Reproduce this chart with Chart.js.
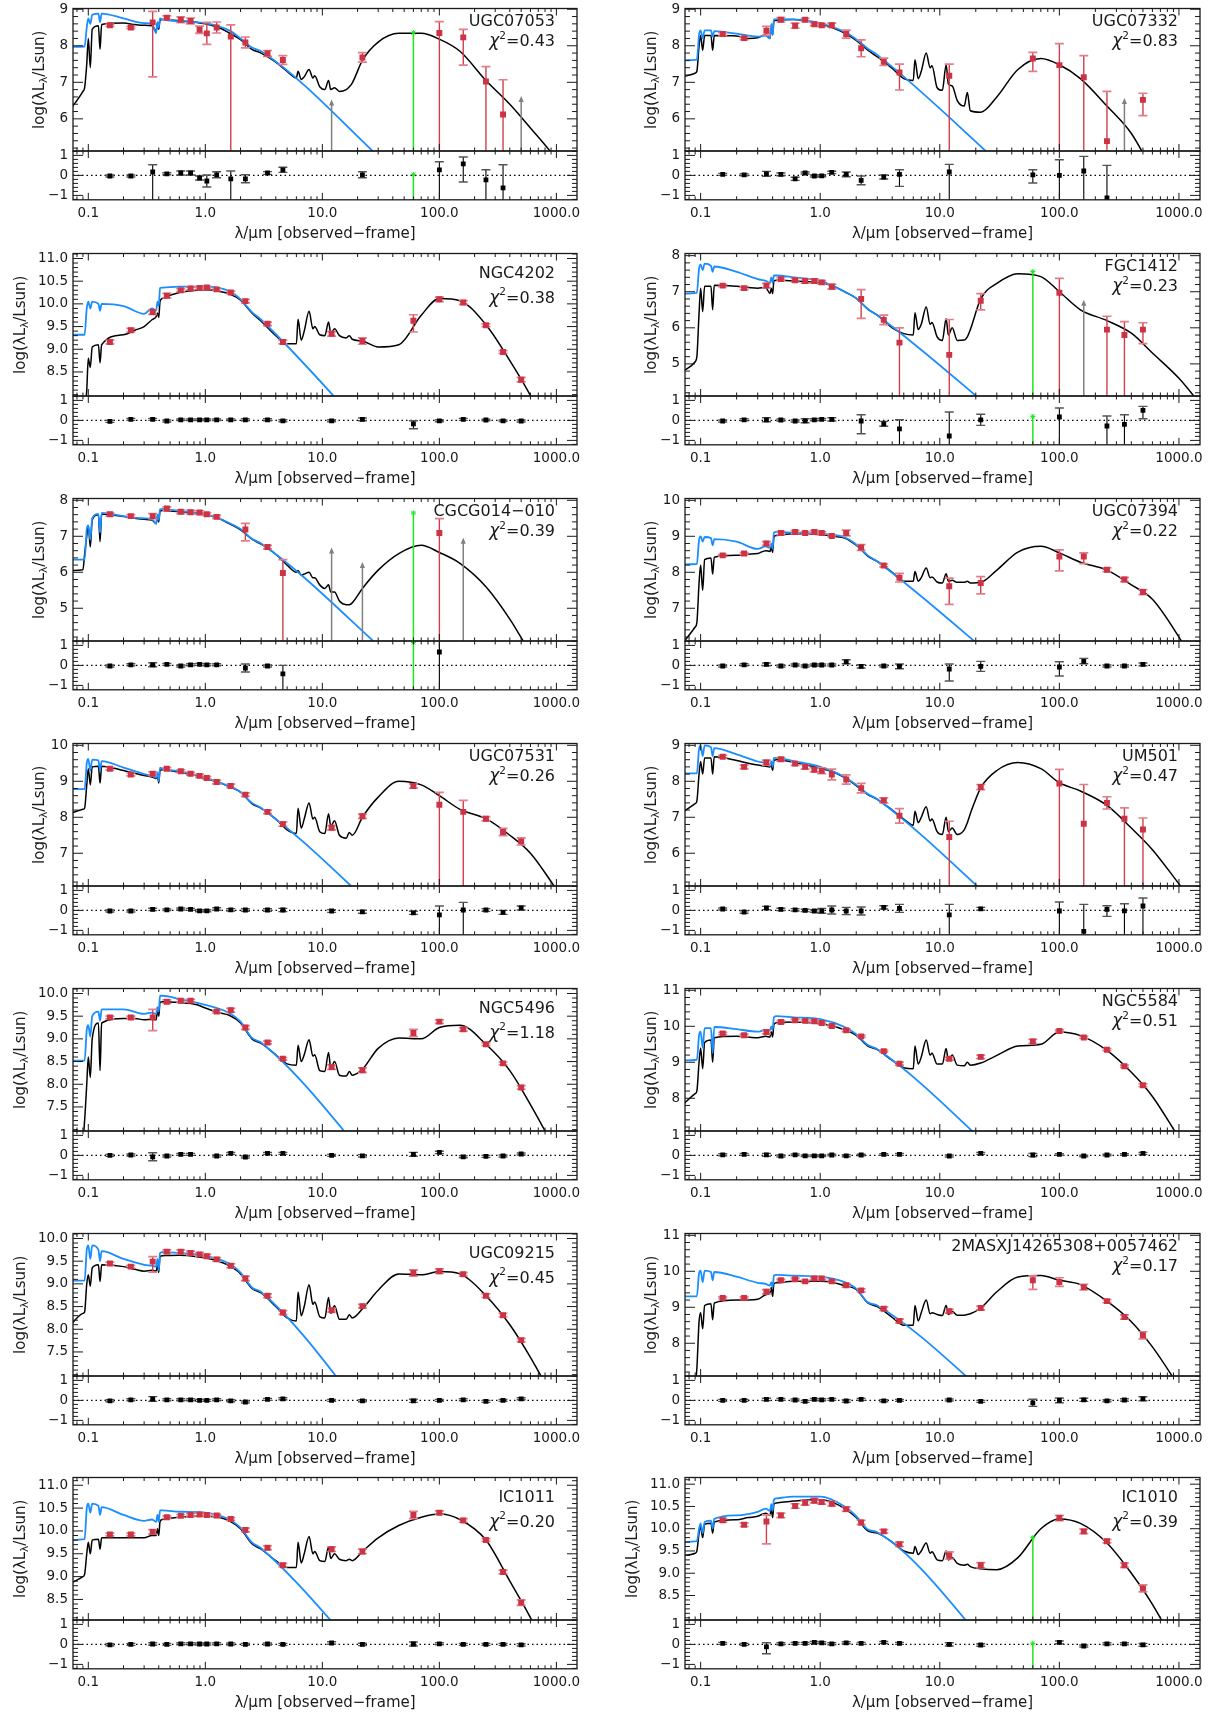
<!DOCTYPE html>
<html><head><meta charset="utf-8">
<script src="https://cdn.jsdelivr.net/npm/chart.js@4.4.0/dist/chart.umd.min.js"></script>
<style>
html,body{margin:0;padding:0;background:#fff;}
#page{position:relative;width:1210px;height:1714px;overflow:hidden;background:#fff;}
#page canvas{position:absolute;}
</style></head><body><div id="page"></div>
<script>
// ---------------- data ----------------
const BANDS = [0.153,0.231,0.355,0.469,0.617,0.748,0.893,1.03,1.25,1.65,2.2,3.4,4.6,12,22,60,100,160,250,350,500];
const MODEL_LAM = [0.07,0.09,0.093,0.097,0.1,0.104,0.108,0.122,0.126,0.13,
  0.2,0.25,0.3,0.35,0.38,0.39,0.4,0.41,0.43,0.6,
  0.85,1.0,1.3,1.6,2.0,2.5,3.0,4.0,5.0,6.0,
  6.2,6.6,7.0,7.7,8.3,8.6,9.5,10.5,11.3,11.8,
  12.7,14,16,17,18,22,30,45,70,100,
  150,250,400,600,1000,1500];
const STAR_LAM = [0.07,0.093,0.097,0.1,0.104,0.108,0.122,0.126,0.13,0.2,0.3,0.35,0.38,0.39,0.4,0.41,0.43,0.6,1.0,1.6,2.0,2.5,3.0,40];
const XTICKS = [0.1, 1, 10, 100, 1000];
const XTICK_LABELS = ['0.1','1.0','10.0','100.0','1000.0'];
const RES_TICKS = [-1, 0, 1];
const RES_TICK_LABELS = ['\u22121','0','1'];
const RES_RANGE = [-1.22, 1.22];
const X_RANGE = [0.074, 1500];

const NAMES = ['UGC07053','UGC07332','NGC4202','FGC1412','CGCG014\u2212010','UGC07394','UGC07531','UM501',
  'NGC5496','NGC5584','UGC09215','2MASXJ14265308+0057462','IC1011','IC1010'];
const CHI2 = ['0.43','0.83','0.38','0.23','0.39','0.22','0.26','0.47','1.18','0.51','0.45','0.17','0.20','0.39'];
const YMIN = [5.12,5.12,7.97,4.11,4.09,6.09,6.09,5.09,6.97,7.09,6.97,7.09,8.05,7.95];
const YMAX = [9.02,9.02,11.11,8.06,8.05,10.05,10.05,9.05,10.11,11.05,10.11,11.05,11.17,11.15];
const YT_6_9 = [6,7,8,9];
const YT_5_8 = [5,6,7,8];
const YT_7_10 = [7,8,9,10];
const YT_8_11 = [8,9,10,11];
const YT_85_110 = [8.5,9.0,9.5,10.0,10.5,11.0];
const YT_75_100 = [7.5,8.0,8.5,9.0,9.5,10.0];

// Panel 1 UGC07053
const P01_obs = [8.56,8.50,8.64,8.77,8.71,8.68,8.44,8.34,8.50,8.25,8.09,7.79,7.61,null,7.68,null,8.35,8.23,7.02,6.12,null];
const P01_err = [0.03,0.03,[0.3,1.49],0.05,0.08,0.08,0.1,0.3,0.15,[0.32,9],0.15,0.08,0.12,null,0.13,null,[0.31,9],[0.22,0.76],[0.41,9],[0.95,9],null];
const P01_res = [-0.03,-0.03,0.17,0.08,0.12,0.12,-0.13,-0.28,0.03,-0.17,-0.17,0.12,0.28,null,0.03,null,0.28,0.58,-0.22,-0.62,null];
const P01_rerr = [0.05,0.05,[0.36,9],0.05,0.1,0.1,0.1,0.3,0.15,[0.39,9],0.2,0.07,0.13,null,0.15,null,[0.4,9],[0.34,0.91],[0.5,9],[1.15,9],null];
const P01_model = [6.25,6.75,6.85,7.5,8.2,7.4,8.45,8.55,7.9,8.58, 8.62,8.58,8.56,8.55,8.4,8.62,8.45,8.7,8.72,8.68, 8.64,8.6,8.5,8.35,8.17,7.9,7.8,7.55,7.3,7.12, 7.3,7.08,7.15,7.35,7.12,7.18,6.88,6.8,7.05,6.8, 6.85,6.75,6.8,6.88,6.98,7.6,8.1,8.34,8.34,8.18, 7.85,7.05,6.4,5.75,4.9,4.1];
const P01_star = [7.97,7.98,8.5,8.75,8.6,8.85,8.88,8.65,8.88,8.75,8.62,8.6,8.35,8.65,8.5,8.75,8.72,8.67,8.62,8.42,8.2,7.95,7.85,4.6];
const P01_ulim = [[12,6.5],[500,6.6]];
const P01_green = [60,8.36,0.05];

// Panel 2 UGC07332
const P02_obs = [8.32,8.21,8.41,8.71,8.55,8.71,8.59,8.56,8.56,8.32,7.93,7.56,7.27,7.18,null,7.65,7.47,7.14,5.39,null,6.52];
const P02_err = [0.04,0.04,0.12,0.06,0.07,0.04,0.04,0.04,0.06,0.11,0.23,0.1,[0.23,0.48],[0.32,9],null,[0.17,0.35],[0.59,9],[0.59,9],[1.36,9],null,[0.18,0.43]];
const P02_res = [0.05,0.03,0.08,0.05,-0.17,0.12,-0.03,-0.02,0.15,0.05,-0.25,-0.08,0.05,0.17,null,0.03,0.0,0.22,-1.12,null,null];
const P02_rerr = [0.05,0.05,0.12,0.07,0.08,0.05,0.05,0.05,0.06,0.12,0.22,0.1,[0.23,0.6],[0.38,9],null,[0.25,0.41],[0.78,9],[0.73,9],[1.62,9],null,null];
const P02_model = [7.14,7.25,7.3,8.0,8.28,7.88,8.28,8.28,7.88,8.28, 8.27,8.2,8.22,8.3,8.2,8.55,8.3,8.68,8.7,8.72, 8.65,8.6,8.48,8.35,8.15,7.88,7.7,7.38,7.1,7.05, 7.62,7.1,7.3,7.8,7.4,7.45,6.85,6.78,7.48,6.95, 6.9,6.5,6.35,6.72,6.22,6.18,6.6,7.35,7.65,7.48, 7.1,6.35,5.6,4.6,3.5,2.6];
const P02_star = [7.6,7.62,8.3,8.42,8.2,8.42,8.42,8.25,8.4,8.33,8.25,8.28,8.2,8.6,8.3,8.72,8.73,8.72,8.62,8.38,8.18,7.92,7.75,4.47];
const P02_ulim = [[350,6.54]];
const P02_green = null;

// Panel 3 NGC4202
const P03_obs = [9.16,9.42,9.82,10.18,10.30,10.34,10.35,10.36,10.32,10.25,10.06,9.56,9.16,9.34,9.18,9.63,10.10,10.03,9.53,8.94,8.33];
const P03_err = [0.04,0.04,0.05,0.05,0.03,0.03,0.03,0.03,0.03,0.03,0.04,0.04,0.04,0.05,0.07,[0.13,0.25],0.05,0.04,0.03,0.03,0.05];
const P03_res = [-0.05,0.05,0.05,-0.03,0.03,0.03,0.03,0.03,0.03,0.03,0.03,0.03,-0.02,-0.02,0.05,-0.17,-0.02,0.05,0.02,-0.02,-0.03];
const P03_rerr = [0.05,0.05,0.05,0.05,0.04,0.04,0.04,0.04,0.04,0.04,0.05,0.05,0.05,0.05,0.07,[0.15,0.25],0.05,0.05,0.04,0.04,0.05];
const P03_model = [7.0,7.3,7.6,8.1,8.8,8.6,9.05,9.1,8.7,9.1, 9.32,9.42,9.5,9.65,9.72,9.8,9.7,10.05,10.12,10.25, 10.3,10.31,10.28,10.22,10.08,9.8,9.62,9.3,9.12,9.12, 9.66,9.2,9.4,9.84,9.45,9.5,9.32,9.3,9.6,9.35, 9.45,9.3,9.25,9.3,9.22,9.18,9.05,9.1,9.75,10.12, 10.07,9.54,8.75,7.98,6.8,5.8];
const P03_star = [9.32,9.32,9.9,10.05,9.9,10.05,10.0,9.85,10.0,9.95,9.78,9.9,9.85,10.05,9.95,10.35,10.36,10.38,10.38,10.28,10.1,9.82,9.65,6.53];
const P03_ulim = [];
const P03_green = null;

// Panel 4 FGC1412
const P04_obs = [7.17,7.10,7.17,7.35,7.32,7.30,7.30,7.26,7.14,null,6.80,6.22,5.59,5.25,6.75,null,6.97,null,5.95,5.80,5.95];
const P04_err = [0.03,0.04,0.06,0.04,0.05,0.06,0.06,0.05,0.07,null,[0.26,0.54],0.13,[0.41,9],[0.98,9],[0.2,0.25],null,[0.4,9],null,[0.37,9],[0.37,9],[0.19,0.39]];
const P04_res = [-0.03,0.03,0.03,0.02,-0.03,-0.02,0.03,0.05,0.05,null,-0.03,-0.17,-0.42,-0.78,0.03,null,0.17,null,-0.28,-0.2,0.5];
const P04_rerr = [0.05,0.05,0.1,0.05,0.05,0.1,0.05,0.05,0.08,null,[0.31,0.64],0.12,[0.45,9],[1.2,9],0.28,null,[0.45,9],null,[0.5,9],[0.48,9],[0.2,0.42]];
const P04_model = [4.78,5.06,5.2,6.4,7.1,6.45,7.15,7.15,6.5,7.18, 7.15,7.12,7.1,7.12,6.95,7.1,6.95,7.3,7.32,7.3, 7.27,7.25,7.15,7.0,6.82,6.52,6.35,6.0,5.84,5.8, 6.42,5.95,6.1,6.58,6.1,6.15,5.75,5.65,6.25,5.8, 6.0,5.65,5.66,5.75,5.95,6.8,7.23,7.5,7.42,7.0, 6.5,6.2,5.85,5.3,4.6,3.9];
const P04_star = [6.95,6.97,7.65,7.75,7.6,7.78,7.72,7.55,7.7,7.55,7.35,7.3,7.25,7.4,7.25,7.45,7.45,7.4,7.3,7.0,6.82,6.52,6.35,3.28];
const P04_ulim = [[160,6.75]];
const P04_green = [60,7.56,0.2];

// Panel 5 CGCG014-010
const P05_obs = [7.61,7.56,7.56,7.77,7.68,7.67,7.66,7.61,7.54,null,7.19,6.70,5.98,null,null,null,7.09,null,null,null,null];
const P05_err = [0.05,0.04,0.07,0.05,0.05,0.05,0.05,0.04,0.04,null,[0.17,0.32],0.05,[0.37,9],null,null,null,[0.4,9],null,null,null,null];
const P05_res = [-0.03,0.03,0.03,0.05,-0.03,0.03,0.05,0.03,0.03,null,-0.13,-0.03,-0.42,null,null,null,0.67,null,null,null,null];
const P05_rerr = [0.05,0.05,0.1,0.05,0.05,0.05,0.05,0.05,0.05,null,0.2,0.05,[0.42,9],null,null,null,[1,9],null,null,null,null];
const P05_model = [6.05,6.07,6.5,7.0,7.3,6.7,7.45,7.6,6.85,7.62, 7.55,7.5,7.47,7.45,7.35,7.55,7.4,7.7,7.72,7.68, 7.64,7.6,7.5,7.35,7.18,6.92,6.78,6.5,6.2,6.0, 6.05,5.92,5.95,6.0,5.85,5.85,5.65,5.55,5.65,5.45, 5.45,5.2,5.1,5.1,5.15,5.55,6.06,6.52,6.75,6.55, 6.25,5.6,4.7,3.75,2.6,1.8];
const P05_star = [6.35,6.35,7.2,7.3,6.9,7.5,7.62,7.1,7.65,7.56,7.5,7.48,7.35,7.6,7.45,7.75,7.76,7.7,7.62,7.37,7.2,6.93,6.8,3.6];
const P05_ulim = [[12,6.66],[22,6.26],[160,6.93]];
const P05_green = [60,7.65,1.15];

// Panel 6 UGC07394
const P06_obs = [8.47,8.52,8.80,9.09,9.12,9.09,9.12,9.09,9.01,9.09,8.69,8.19,7.85,7.61,7.70,null,8.44,8.44,8.07,7.80,7.45];
const P06_err = [0.03,0.03,0.05,0.05,0.04,0.04,0.04,0.03,0.03,0.08,0.08,0.04,0.12,[0.23,0.5],[0.18,0.3],null,[0.18,0.4],[0.1,0.2],0.05,0.06,0.07];
const P06_res = [-0.03,0.03,0.05,-0.03,0.02,-0.03,0.02,0.02,0.02,0.18,-0.05,-0.03,-0.05,-0.18,-0.05,null,-0.08,0.2,-0.03,-0.03,0.05];
const P06_rerr = [0.05,0.05,0.07,0.05,0.05,0.05,0.05,0.05,0.05,0.1,0.08,0.05,0.12,[0.25,0.6],0.25,null,[0.26,0.45],[0.15,0.12],0.05,0.05,0.07];
const P06_model = [6.0,6.48,6.6,7.7,8.2,7.5,8.35,8.4,7.95,8.42, 8.47,8.5,8.52,8.6,8.58,8.7,8.55,8.98,9.02,9.07, 9.06,9.05,9.0,8.95,8.75,8.45,8.3,8.0,7.75,7.75, 8.02,7.75,7.85,8.12,7.85,7.87,7.73,7.7,7.96,7.75, 7.78,7.72,7.72,7.75,7.7,7.72,8.06,8.56,8.72,8.54, 8.28,8.06,7.65,7.25,6.2,5.2];
const P06_star = [8.22,8.23,8.9,9.0,8.85,8.98,8.95,8.75,8.92,8.85,8.65,8.72,8.68,8.8,8.65,9.1,9.12,9.1,9.07,8.97,8.77,8.47,8.3,5.2];
const P06_ulim = [];
const P06_green = null;

// Panel 7 UGC07531
const P07_obs = [9.35,9.19,9.21,9.35,9.28,9.21,9.15,9.09,8.98,8.87,8.63,8.15,7.81,7.71,8.03,8.87,8.35,8.15,7.96,7.59,7.33];
const P07_err = [0.04,0.04,0.05,0.03,0.04,0.04,0.04,0.04,0.05,0.05,0.05,0.05,0.06,0.06,0.06,0.06,[0.34,9],[0.32,9],0.06,0.1,0.1];
const P07_res = [-0.03,-0.03,0.05,0.03,0.07,0.05,-0.02,-0.02,0.07,0.03,0.02,0.02,0.02,-0.03,-0.07,-0.12,-0.22,0.02,0.02,-0.1,0.12];
const P07_rerr = [0.05,0.05,0.06,0.04,0.05,0.05,0.05,0.05,0.06,0.06,0.06,0.06,0.08,0.07,0.07,0.08,[0.44,9],[0.38,9],0.07,0.1,0.1];
const P07_model = [8.1,8.22,8.25,8.9,9.35,8.9,9.4,9.42,8.95,9.42, 9.3,9.22,9.16,9.12,9.08,9.15,8.95,9.3,9.32,9.25, 9.15,9.08,8.97,8.85,8.7,8.38,8.25,7.95,7.65,7.55, 8.25,7.7,7.95,8.4,7.95,8.0,7.6,7.55,8.1,7.75, 7.9,7.5,7.42,7.58,7.5,8.0,8.56,9.0,8.9,8.6, 8.22,7.96,7.5,7.0,6.0,5.2];
const P07_star = [8.78,8.78,9.5,9.62,9.3,9.6,9.58,9.3,9.56,9.38,9.2,9.15,9.1,9.25,9.0,9.38,9.35,9.28,9.1,8.86,8.7,8.4,8.26,5.02];
const P07_ulim = [];
const P07_green = null;

// Panel 8 UM501
const P08_obs = [8.68,8.40,8.52,8.61,8.49,8.40,8.32,8.29,8.19,8.05,7.81,7.47,7.04,6.45,7.84,null,7.94,6.82,7.40,6.96,6.66];
const P08_err = [0.04,0.05,0.07,0.05,0.05,0.06,0.06,0.08,0.15,0.13,0.13,0.07,0.2,[0.44,9],0.07,null,[0.39,9],[1.09,9],0.17,[0.3,9],[0.32,9]];
const P08_res = [0.07,-0.08,0.12,0.05,0.03,0.0,-0.03,-0.02,0.02,-0.03,-0.03,0.15,0.1,-0.22,0.08,null,-0.03,-1.05,0.05,-0.02,0.22];
const P08_rerr = [0.05,0.06,0.08,0.06,0.06,0.06,0.06,0.12,0.2,0.18,0.2,0.08,0.2,[0.52,9],0.07,null,[0.45,9],[1.35,9],[0.18,0.35],[0.35,9],[0.4,9]];
const P08_model = [7.13,7.38,7.45,8.2,8.55,8.2,8.65,8.65,8.2,8.68, 8.58,8.5,8.45,8.42,8.4,8.45,8.3,8.58,8.6,8.53, 8.42,8.37,8.25,8.1,7.88,7.63,7.5,7.2,6.95,6.78, 7.17,6.85,7.0,7.29,6.9,6.95,6.6,6.52,7.0,6.6, 6.7,6.52,6.65,6.85,7.1,7.82,8.3,8.52,8.35,7.96, 7.73,7.33,6.7,6.1,5.15,4.4];
const P08_star = [8.22,8.22,8.9,9.0,8.7,9.0,8.95,8.7,8.92,8.75,8.55,8.5,8.42,8.55,8.4,8.65,8.65,8.56,8.4,8.12,7.9,7.65,7.5,4.21];
const P08_ulim = [];
const P08_green = null;

// Panel 9 NGC5496
const P09_obs = [9.47,9.47,9.47,9.82,9.84,9.84,null,null,9.60,9.63,9.25,8.92,8.56,8.38,8.31,9.13,9.38,9.21,8.88,8.46,7.93];
const P09_err = [0.03,0.03,[0.18,0.29],0.04,0.03,0.03,null,null,0.03,0.04,0.04,0.03,0.03,0.05,0.05,0.08,0.04,0.04,0.03,0.03,0.04];
const P09_res = [0.0,0.02,-0.07,-0.03,0.05,0.05,null,null,-0.03,0.1,-0.08,0.1,0.1,0.0,-0.02,0.05,0.15,-0.07,-0.05,-0.03,0.07];
const P09_rerr = [0.05,0.05,0.2,0.05,0.05,0.05,null,null,0.05,0.05,0.05,0.05,0.05,0.05,0.06,0.1,0.06,0.05,0.05,0.05,0.05];
const P09_model = [6.5,6.8,7.2,8.0,8.6,8.15,9.0,9.35,8.3,9.35, 9.45,9.45,9.42,9.43,9.42,9.65,9.5,9.8,9.82,9.8, 9.75,9.68,9.58,9.52,9.35,9.0,8.9,8.65,8.45,8.42, 8.86,8.5,8.65,8.98,8.62,8.65,8.3,8.28,8.7,8.35, 8.5,8.2,8.18,8.28,8.2,8.33,8.79,9.02,9.0,9.25, 9.3,8.88,8.3,7.55,6.5,5.6];
const P09_star = [8.52,8.52,9.2,9.3,9.05,9.5,9.6,9.4,9.65,9.65,9.55,9.58,9.55,9.7,9.6,9.95,9.95,9.88,9.75,9.57,9.38,9.02,8.92,5.7];
const P09_ulim = [];
const P09_green = null;

// Panel 10 NGC5584
const P10_obs = [9.80,9.75,9.84,10.12,10.17,10.15,10.14,10.09,10.01,9.89,9.72,9.31,8.96,9.10,9.15,9.58,9.87,9.69,9.35,8.89,8.36];
const P10_err = [0.03,0.03,0.05,0.04,0.03,0.03,0.03,0.03,0.03,0.04,0.03,0.03,0.04,0.04,0.05,0.06,0.03,0.03,0.03,0.03,0.04];
const P10_res = [0.03,0.05,0.03,-0.03,0.03,-0.02,-0.02,-0.02,0.02,-0.02,0.02,0.05,0.05,-0.03,0.1,0.02,0.05,-0.03,0.02,0.05,0.1];
const P10_rerr = [0.05,0.05,0.07,0.05,0.04,0.04,0.04,0.04,0.04,0.05,0.04,0.04,0.05,0.05,0.05,0.08,0.04,0.04,0.04,0.04,0.05];
const P10_model = [7.8,8.13,8.2,9.0,9.4,8.82,9.55,9.62,9.0,9.68, 9.72,9.7,9.68,9.72,9.7,9.85,9.7,10.05,10.1,10.12, 10.1,10.08,10.0,9.9,9.75,9.45,9.35,9.05,8.85,8.82, 9.45,8.95,9.15,9.62,9.2,9.25,8.95,8.95,9.38,9.05, 9.2,8.92,8.9,9.0,8.92,8.98,9.19,9.45,9.5,9.84, 9.74,9.33,8.72,8.05,6.9,6.0];
const P10_star = [9.05,9.07,9.75,9.85,9.4,9.95,9.95,9.25,9.98,9.92,9.85,9.9,9.88,10.0,9.9,10.25,10.28,10.25,10.2,9.98,9.78,9.48,9.36,6.07];
const P10_ulim = [];
const P10_green = null;

// Panel 11 UGC09215
const P11_obs = [9.45,9.38,9.49,9.71,9.71,9.68,9.65,9.61,9.54,9.40,9.12,8.74,8.37,8.42,8.51,9.24,9.28,9.21,8.74,8.31,7.76];
const P11_err = [0.03,0.03,[0.11,0.23],0.04,0.04,0.04,0.04,0.04,0.04,0.04,0.05,0.04,0.04,0.04,0.04,0.07,0.05,0.04,0.04,0.04,0.04];
const P11_res = [-0.02,0.03,0.07,0.03,0.03,0.03,0.0,0.0,0.03,-0.02,-0.08,0.05,0.08,0.0,-0.02,-0.02,0.0,0.03,-0.05,0.0,0.08];
const P11_rerr = [0.05,0.05,0.12,0.05,0.05,0.05,0.05,0.05,0.05,0.05,0.05,0.05,0.05,0.05,0.05,0.08,0.05,0.05,0.05,0.05,0.05];
const P11_model = [8.09,8.35,8.38,9.0,9.2,8.95,9.35,9.42,9.05,9.42, 9.38,9.32,9.28,9.3,9.28,9.4,9.25,9.6,9.62,9.63, 9.6,9.57,9.5,9.4,9.22,8.9,8.8,8.5,8.25,8.18, 8.82,8.3,8.5,8.98,8.55,8.6,8.28,8.25,8.7,8.35, 8.52,8.22,8.22,8.32,8.25,8.45,8.86,9.22,9.2,9.27, 9.22,8.74,8.1,7.38,6.32,5.3];
const P11_star = [9.07,9.07,9.75,9.85,9.55,9.85,9.75,9.5,9.72,9.55,9.42,9.4,9.38,9.55,9.3,9.68,9.7,9.68,9.62,9.45,9.25,8.92,8.82,5.37];
const P11_ulim = [];
const P11_green = null;

// Panel 12 2MASXJ14265308+0057462
const P12_obs = [9.26,9.26,9.43,9.75,9.78,9.72,9.80,9.80,9.72,9.61,9.47,8.96,8.62,8.89,8.98,9.75,9.70,9.56,9.17,8.73,8.22];
const P12_err = [0.03,0.03,0.06,0.03,0.03,0.03,0.03,0.03,0.03,0.05,0.04,0.05,0.05,0.05,0.05,[0.12,0.25],0.12,0.08,0.04,0.06,0.1];
const P12_res = [0.0,0.0,0.05,0.05,0.02,-0.05,0.05,0.03,0.05,-0.03,0.05,-0.02,0.0,0.02,-0.05,-0.12,0.0,0.03,-0.02,0.02,0.08];
const P12_rerr = [0.05,0.05,0.06,0.05,0.05,0.05,0.05,0.05,0.05,0.06,0.05,0.05,0.05,0.05,0.05,0.18,0.12,0.08,0.05,0.06,0.1];
const P12_model = [6.5,6.9,7.3,8.6,8.85,8.4,9.05,9.1,8.65,9.12, 9.2,9.2,9.22,9.35,9.4,9.55,9.3,9.65,9.68,9.72, 9.72,9.72,9.68,9.6,9.5,9.12,9.02,8.72,8.5,8.5, 9.05,8.62,8.85,9.2,8.82,8.85,8.8,8.77,9.05,8.8, 8.88,8.78,8.78,8.8,8.82,8.98,9.43,9.84,9.88,9.75, 9.63,9.17,8.6,7.9,6.8,5.9];
const P12_star = [9.3,9.3,9.95,10.02,9.7,10.02,9.98,9.75,9.98,9.85,9.68,9.65,9.6,9.7,9.55,9.88,9.9,9.88,9.85,9.7,9.52,9.14,9.05,5.97];
const P12_ulim = [];
const P12_green = null;

// Panel 13 IC1011
const P13_obs = [9.92,9.92,9.98,10.30,10.33,10.35,10.36,10.35,10.34,10.26,10.02,9.63,9.25,9.60,9.55,10.35,10.40,10.23,9.80,9.10,8.43];
const P13_err = [0.03,0.03,0.05,0.03,0.03,0.03,0.03,0.03,0.03,0.03,0.04,0.04,0.04,0.05,0.05,0.08,0.04,0.04,0.03,0.04,0.06];
const P13_res = [-0.02,0.0,0.02,0.0,0.03,0.03,0.02,0.02,0.03,0.02,0.0,0.02,0.0,0.07,0.0,0.02,0.03,0.0,0.0,0.0,-0.02];
const P13_rerr = [0.05,0.05,0.06,0.05,0.05,0.05,0.05,0.05,0.05,0.05,0.05,0.05,0.05,0.06,0.06,0.1,0.05,0.05,0.05,0.05,0.06];
const P13_model = [8.85,9.0,9.05,9.5,9.75,9.5,9.8,9.82,9.6,9.85, 9.85,9.85,9.85,9.9,9.9,10.05,9.9,10.2,10.25,10.3, 10.32,10.32,10.3,10.22,10.05,9.72,9.6,9.35,9.2,9.2, 9.75,9.3,9.5,9.88,9.5,9.55,9.35,9.33,9.65,9.4, 9.5,9.38,9.35,9.38,9.35,9.55,9.85,10.12,10.3,10.37, 10.25,9.8,8.9,8.1,6.9,5.9];
const P13_star = [9.8,9.82,10.5,10.6,10.4,10.6,10.55,10.35,10.52,10.35,10.22,10.25,10.2,10.35,10.2,10.45,10.45,10.42,10.4,10.25,10.07,9.75,9.62,6.49];
const P13_ulim = [];
const P13_green = null;

// Panel 14 IC1010
const P14_obs = [10.19,10.09,10.16,10.30,10.51,10.58,10.63,10.60,10.56,10.44,10.14,9.94,9.65,9.40,9.18,null,10.24,9.94,9.72,9.18,8.66];
const P14_err = [0.04,0.04,[0.15,0.5],0.05,0.05,0.05,0.05,0.05,0.05,0.05,0.05,0.04,0.05,0.08,0.06,null,0.06,0.05,0.04,0.05,0.08];
const P14_res = [0.05,0.0,-0.12,0.03,0.05,0.05,0.1,0.08,0.03,0.08,0.05,0.1,0.05,0.0,-0.03,null,0.1,-0.08,0.03,0.03,-0.02];
const P14_rerr = [0.05,0.05,[0.2,0.35],0.05,0.05,0.05,0.05,0.05,0.05,0.05,0.05,0.05,0.05,0.08,0.06,null,0.07,0.05,0.05,0.05,0.07];
const P14_model = [9.4,9.45,9.5,9.9,10.05,9.8,10.1,10.12,9.9,10.15, 10.2,10.25,10.28,10.35,10.3,10.45,10.25,10.55,10.58,10.62, 10.65,10.65,10.58,10.45,10.25,9.95,9.9,9.7,9.5,9.45, 9.6,9.42,9.5,9.68,9.45,9.48,9.3,9.28,9.5,9.3, 9.35,9.22,9.18,9.2,9.15,9.1,9.08,9.35,10.0,10.22, 10.12,9.68,9.0,8.3,7.2,6.1];
const P14_star = [9.7,9.72,10.0,10.12,9.9,10.15,10.18,10.0,10.22,10.3,10.38,10.45,10.4,10.55,10.4,10.65,10.68,10.72,10.72,10.5,10.28,9.98,9.92,6.75];
const P14_ulim = [];
const P14_green = [60,9.8,0.05];

// ------------- table built from the arrays -------------
const PANELS = [
 {obs:P01_obs,err:P01_err,res:P01_res,rerr:P01_rerr,model:P01_model,star:P01_star,ulim:P01_ulim,green:P01_green,yt:YT_6_9},
 {obs:P02_obs,err:P02_err,res:P02_res,rerr:P02_rerr,model:P02_model,star:P02_star,ulim:P02_ulim,green:P02_green,yt:YT_6_9},
 {obs:P03_obs,err:P03_err,res:P03_res,rerr:P03_rerr,model:P03_model,star:P03_star,ulim:P03_ulim,green:P03_green,yt:YT_85_110},
 {obs:P04_obs,err:P04_err,res:P04_res,rerr:P04_rerr,model:P04_model,star:P04_star,ulim:P04_ulim,green:P04_green,yt:YT_5_8},
 {obs:P05_obs,err:P05_err,res:P05_res,rerr:P05_rerr,model:P05_model,star:P05_star,ulim:P05_ulim,green:P05_green,yt:YT_5_8},
 {obs:P06_obs,err:P06_err,res:P06_res,rerr:P06_rerr,model:P06_model,star:P06_star,ulim:P06_ulim,green:P06_green,yt:YT_7_10},
 {obs:P07_obs,err:P07_err,res:P07_res,rerr:P07_rerr,model:P07_model,star:P07_star,ulim:P07_ulim,green:P07_green,yt:YT_7_10},
 {obs:P08_obs,err:P08_err,res:P08_res,rerr:P08_rerr,model:P08_model,star:P08_star,ulim:P08_ulim,green:P08_green,yt:YT_6_9},
 {obs:P09_obs,err:P09_err,res:P09_res,rerr:P09_rerr,model:P09_model,star:P09_star,ulim:P09_ulim,green:P09_green,yt:YT_75_100},
 {obs:P10_obs,err:P10_err,res:P10_res,rerr:P10_rerr,model:P10_model,star:P10_star,ulim:P10_ulim,green:P10_green,yt:YT_8_11},
 {obs:P11_obs,err:P11_err,res:P11_res,rerr:P11_rerr,model:P11_model,star:P11_star,ulim:P11_ulim,green:P11_green,yt:YT_75_100},
 {obs:P12_obs,err:P12_err,res:P12_res,rerr:P12_rerr,model:P12_model,star:P12_star,ulim:P12_ulim,green:P12_green,yt:YT_8_11},
 {obs:P13_obs,err:P13_err,res:P13_res,rerr:P13_rerr,model:P13_model,star:P13_star,ulim:P13_ulim,green:P13_green,yt:YT_85_110},
 {obs:P14_obs,err:P14_err,res:P14_res,rerr:P14_rerr,model:P14_model,star:P14_star,ulim:P14_ulim,green:P14_green,yt:YT_85_110}
];
PANELS.forEach((p,i)=>{ p.name = NAMES[i]; p.chi = CHI2[i]; p.ymin = YMIN[i]; p.ymax = YMAX[i]; });

// ---------------- styling / layout ----------------
const FONT = '"DejaVu Sans", "Liberation Sans", sans-serif';
const RED = '#cc3344', RED_BAR = '#cf3f4d', RED_CAP = '#e27e89';
const BLUE = '#1a8eff', GREEN = '#1ee61e', GRAY = '#808080', INK = '#1a1a1a';
const CELL_W = 605, CELL_H = 245, ROW_PITCH = 244.9;
const TOP = 8.5, MAIN_H = 142.5, RES_H = 48.8;
const COLS = [{L:73, R:28}, {L:80, R:10}];
const INFO = new Map();

function fnt(sz, it){ return (it ? 'italic ' : '') + sz + 'px ' + FONT; }
function seg(ctx, x1, y1, x2, y2){ ctx.beginPath(); ctx.moveTo(x1,y1); ctx.lineTo(x2,y2); ctx.stroke(); }
function rich(ctx, parts, x, y, align){
  let w = 0;
  parts.forEach(s => { ctx.font = fnt(s.sz, s.it); s.w = ctx.measureText(s.t).width; w += s.w; });
  let cx = align === 'right' ? x - w : (align === 'center' ? x - w/2 : x);
  ctx.textAlign = 'left'; ctx.textBaseline = 'middle';
  parts.forEach(s => { ctx.font = fnt(s.sz, s.it); ctx.fillText(s.t, cx, y + (s.dy || 0)); cx += s.w; });
}
function clipArea(ctx, a){ ctx.beginPath(); ctx.rect(a.left, a.top, a.right - a.left, a.bottom - a.top); ctx.clip(); }

function drawBars(ctx, xs, ys, vals, errs, cBar, cCap, lw){
  vals.forEach((v, i) => {
    if (v == null || errs[i] == null) return;
    const e = errs[i];
    const up = Array.isArray(e) ? e[0] : e, lo = Array.isArray(e) ? e[1] : e;
    const px = xs.getPixelForValue(BANDS[i]);
    const ph = ys.getPixelForValue(v + up), pl = ys.getPixelForValue(v - lo);
    ctx.strokeStyle = cBar; ctx.lineWidth = lw; seg(ctx, px, pl, px, ph);
    ctx.strokeStyle = cCap; ctx.lineWidth = lw + 0.3;
    seg(ctx, px - 4.5, ph, px + 4.5, ph); seg(ctx, px - 4.5, pl, px + 4.5, pl);
  });
}
function drawGreen(ctx, xs, ys, a, lam, val){
  const px = xs.getPixelForValue(lam), py = ys.getPixelForValue(val);
  ctx.strokeStyle = GREEN; ctx.lineWidth = 1.5; seg(ctx, px, a.bottom, px, py);
  ctx.lineWidth = 1;
  seg(ctx, px - 2.5, py, px + 2.5, py); seg(ctx, px, py - 2.5, px, py + 2.5);
  seg(ctx, px - 2, py - 2, px + 2, py + 2); seg(ctx, px - 2, py + 2, px + 2, py - 2);
}
function drawLimit(ctx, xs, ys, a, lam, val){
  const px = xs.getPixelForValue(lam), py = ys.getPixelForValue(val);
  ctx.strokeStyle = GRAY; ctx.fillStyle = GRAY; ctx.lineWidth = 1.5;
  seg(ctx, px, a.bottom, px, py + 3);
  ctx.beginPath(); ctx.moveTo(px, py - 1); ctx.lineTo(px - 2.6, py + 5); ctx.lineTo(px + 2.6, py + 5); ctx.closePath(); ctx.fill();
}
function drawFrame(chart, yt, ymin, ymax){
  const {ctx, chartArea: a, scales: {x, y}} = chart;
  ctx.save();
  ctx.strokeStyle = INK; ctx.lineWidth = 1.3;
  ctx.strokeRect(a.left, a.top, a.right - a.left, a.bottom - a.top);
  ctx.lineWidth = 1;
  for (let d = -2; d <= 3; d++) for (let k = 1; k <= 9; k++) {
    const v = k * Math.pow(10, d);
    if (v < X_RANGE[0] || v > X_RANGE[1]) continue;
    const major = XTICKS.some(t => Math.abs(t - v) / t < 1e-6);
    const len = major ? 7 : 3.5, px = x.getPixelForValue(v);
    seg(ctx, px, a.bottom, px, a.bottom - len); seg(ctx, px, a.top, px, a.top + len);
  }
  const step = yt.length > 1 ? yt[1] - yt[0] : 1;
  const minor = step < 0.9 ? 0.1 : 0.2;
  for (let n = Math.ceil(ymin / minor - 1e-6); n * minor <= ymax + 1e-6; n++) {
    const v = n * minor;
    const major = yt.some(t => Math.abs(t - v) < 1e-6);
    const len = major ? 10 : 5, py = y.getPixelForValue(v);
    seg(ctx, a.left, py, a.left + len, py); seg(ctx, a.right, py, a.right - len, py);
  }
  ctx.restore();
}

const idlPlugin = {
  id: 'idl',
  beforeDatasetsDraw(chart){
    const info = INFO.get(chart.canvas); if (!info || info.kind !== 'res') return;
    const p = info.p, {ctx, chartArea: a, scales: {x, y}} = chart;
    ctx.save(); clipArea(ctx, a);
    ctx.strokeStyle = '#000'; ctx.lineWidth = 1.2; ctx.setLineDash([1.5, 3]);
    const y0 = y.getPixelForValue(0); seg(ctx, a.left, y0, a.right, y0);
    ctx.setLineDash([]);
    if (p.green) drawGreen(ctx, x, y, a, p.green[0], p.green[2]);
    drawBars(ctx, x, y, p.res, p.rerr, '#000', '#555', 1.1);
    ctx.restore();
  },
  afterDatasetDraw(chart, args){
    const info = INFO.get(chart.canvas); if (!info || info.kind !== 'main') return;
    if (chart.data.datasets[args.index].label !== 'star') return;
    const p = info.p, {ctx, chartArea: a, scales: {x, y}} = chart;
    ctx.save(); clipArea(ctx, a);
    p.ulim.forEach(u => drawLimit(ctx, x, y, a, u[0], u[1]));
    if (p.green) drawGreen(ctx, x, y, a, p.green[0], p.green[1]);
    drawBars(ctx, x, y, p.obs, p.err, RED_BAR, RED_CAP, 1.4);
    ctx.restore();
  },
  afterDraw(chart){
    const info = INFO.get(chart.canvas); if (!info) return;
    const p = info.p, {ctx, chartArea: a, scales: {x, y}} = chart;
    ctx.save();
    ctx.fillStyle = INK;
    if (info.kind === 'main') {
      drawFrame(chart, p.yt, p.ymin, p.ymax);
      const half = (p.yt[1] - p.yt[0]) < 0.9;
      ctx.font = fnt(13.5); ctx.textAlign = 'right'; ctx.textBaseline = 'middle';
      p.yt.forEach(t => ctx.fillText(half ? t.toFixed(1) : String(t), a.left - 5, y.getPixelForValue(t)));
      ctx.save();
      ctx.translate(a.left - (half ? 52 : 33), (a.top + a.bottom) / 2); ctx.rotate(-Math.PI / 2);
      rich(ctx, [{t:'log(\u03bbL', sz:15}, {t:'\u03bb', sz:10.5, dy:4}, {t:'/Lsun)', sz:15}], 0, 0, 'center');
      ctx.restore();
      const xr = a.right - 22;
      const yName = a.top + (half ? 20 : 13.5), yChi = a.top + (half ? 45 : 33.5);
      rich(ctx, [{t:p.name, sz:16}], xr, yName, 'right');
      rich(ctx, [{t:'\u03c7', sz:17, it:true}, {t:'2', sz:10.5, dy:-6}, {t:'=' + p.chi, sz:16}], xr, yChi, 'right');
    } else {
      drawFrame(chart, RES_TICKS, RES_RANGE[0], RES_RANGE[1]);
      ctx.font = fnt(13.5); ctx.textAlign = 'right'; ctx.textBaseline = 'middle';
      RES_TICKS.forEach((t, i) => ctx.fillText(RES_TICK_LABELS[i], a.left - 5, y.getPixelForValue(t)));
      ctx.textAlign = 'center';
      XTICKS.forEach((t, i) => ctx.fillText(XTICK_LABELS[i], x.getPixelForValue(t), a.bottom + 14));
      rich(ctx, [{t:'\u03bb/\u03bcm [observed\u2212frame]', sz:15}], (a.left + a.right) / 2, a.bottom + 34, 'center');
    }
    ctx.restore();
  }
};

const page = document.getElementById('page');
function makeCanvas(col, row){
  const c = document.createElement('canvas');
  c.width = CELL_W; c.height = CELL_H;
  c.style.left = (col * CELL_W) + 'px';
  c.style.top = Math.round(row * ROW_PITCH) + 'px';
  c.style.width = CELL_W + 'px'; c.style.height = CELL_H + 'px';
  page.appendChild(c);
  return c;
}
function pts(xs, ys){ const out = []; xs.forEach((xv, i) => { if (ys[i] != null) out.push({x: xv, y: ys[i]}); }); return out; }

PANELS.forEach((p, i) => {
  const col = i % 2, row = Math.floor(i / 2), g = COLS[col];
  const c1 = makeCanvas(col, row);
  INFO.set(c1, {kind:'main', p});
  new Chart(c1, {
    type: 'scatter',
    data: { datasets: [
      {label:'obs', data: pts(BANDS, p.obs), pointStyle:'rect', pointRadius:4.2, backgroundColor:RED, borderColor:RED, borderWidth:0, order:1, clip:0},
      {label:'star', type:'line', data: pts(STAR_LAM, p.star), borderColor:BLUE, borderWidth:1.8, pointRadius:0, fill:false, cubicInterpolationMode:'monotone', order:4, clip:0},
      {label:'model', type:'line', data: pts(MODEL_LAM, p.model), borderColor:'#000', borderWidth:1.5, pointRadius:0, fill:false, cubicInterpolationMode:'monotone', order:5, clip:0}
    ]},
    options: {
      responsive:false, animation:false, devicePixelRatio:1, events:[],
      layout:{padding:{left:g.L, right:g.R, top:TOP, bottom:CELL_H - TOP - MAIN_H}},
      scales:{
        x:{type:'logarithmic', min:X_RANGE[0], max:X_RANGE[1], display:false},
        y:{type:'linear', min:p.ymin, max:p.ymax, display:false}
      },
      plugins:{legend:{display:false}, tooltip:{enabled:false}}
    },
    plugins:[idlPlugin]
  });
  const c2 = makeCanvas(col, row);
  INFO.set(c2, {kind:'res', p});
  new Chart(c2, {
    type: 'scatter',
    data: { datasets: [
      {label:'res', data: pts(BANDS, p.res), pointStyle:'rect', pointRadius:3.4, backgroundColor:'#000', borderColor:'#000', borderWidth:0, order:1, clip:0}
    ]},
    options: {
      responsive:false, animation:false, devicePixelRatio:1, events:[],
      layout:{padding:{left:g.L, right:g.R, top:TOP + MAIN_H, bottom:CELL_H - TOP - MAIN_H - RES_H}},
      scales:{
        x:{type:'logarithmic', min:X_RANGE[0], max:X_RANGE[1], display:false},
        y:{type:'linear', min:RES_RANGE[0], max:RES_RANGE[1], display:false}
      },
      plugins:{legend:{display:false}, tooltip:{enabled:false}}
    },
    plugins:[idlPlugin]
  });
});
</script>
</body></html>
